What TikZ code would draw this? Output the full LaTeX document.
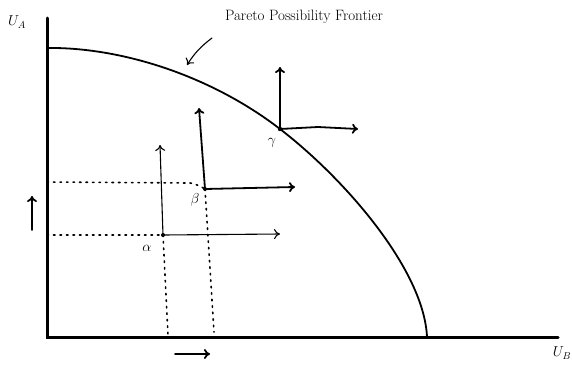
\documentclass[tikz,border=0pt]{standalone}
\usepackage{amsmath,amssymb}
\usepackage{tikz}
\usetikzlibrary{arrows.meta}

\begin{document}
\begin{tikzpicture}[x=1pt, y=-1pt, >={To[length=6pt,width=10pt]}, line cap=round]
    \useasboundingbox (0,0) rectangle (572,367);
    \tikzset{
        move/.style={->, line width=1.8pt},
        smallmove/.style={->, line width=1.1pt},
        guide/.style={line width=1.6pt, dash pattern=on 1.5pt off 5pt},
        lbl/.style={font=\Large},
    }
    \coordinate (O) at (47,337);
    \coordinate (alpha) at (163,235);
    \coordinate (beta) at (205,189);
    \coordinate (gamma) at (280,129);

    % axes
    \draw[line width=3pt] (47,18) -- (O) -- (558,337);
    \node[lbl] (UA) at (17,22) {$U_A$};
    \node[lbl] (UB) at (562,353) {$U_B$};

    % frontier
    \draw[line width=1.8pt] (47,48) .. controls (120,47) and (210,75) .. (gamma)
        .. controls (345,179) and (424,270) .. (427,337);
    \node (ppf) at (304,17) {\fontsize{15}{17}\selectfont Pareto Possibility Frontier};
    \coordinate (ppftip) at (187,65);
    \draw[->, line width=1.1pt] (212,38) to[bend right=10] (ppftip);

    % dotted guides
    \draw[guide] (47,235) -- (alpha);
    \draw[guide] (47,182) -- (190,183) to[bend left=10] (beta);
    \draw[guide] (alpha) -- (168,335);
    \draw[guide] (beta) -- (214,332);

    % alpha
    \fill (alpha) circle (2pt);
    \draw[smallmove] (alpha) -- (160,145);
    \draw[smallmove] (alpha) -- (280,234);
    \node[lbl] (a) at (147,248) {$\alpha$};

    % beta
    \fill (beta) circle (2pt);
    \draw[move] (beta) -- (199,108);
    \draw[move] (beta) -- (295,187);
    \node[lbl] (b) at (195,200) {$\beta$};

    % gamma
    \fill (gamma) circle (2.2pt);
    \draw[move] (gamma) -- (280,67);
    \draw[move] (gamma) -- (318,127) -- (358,129);
    \node[lbl] (c) at (272,143) {$\gamma$};

    % direction arrows
    \draw[move] (32,230) -- (32,196);
    \draw[move] (175,354) -- (210,354);
\end{tikzpicture}
\end{document}
